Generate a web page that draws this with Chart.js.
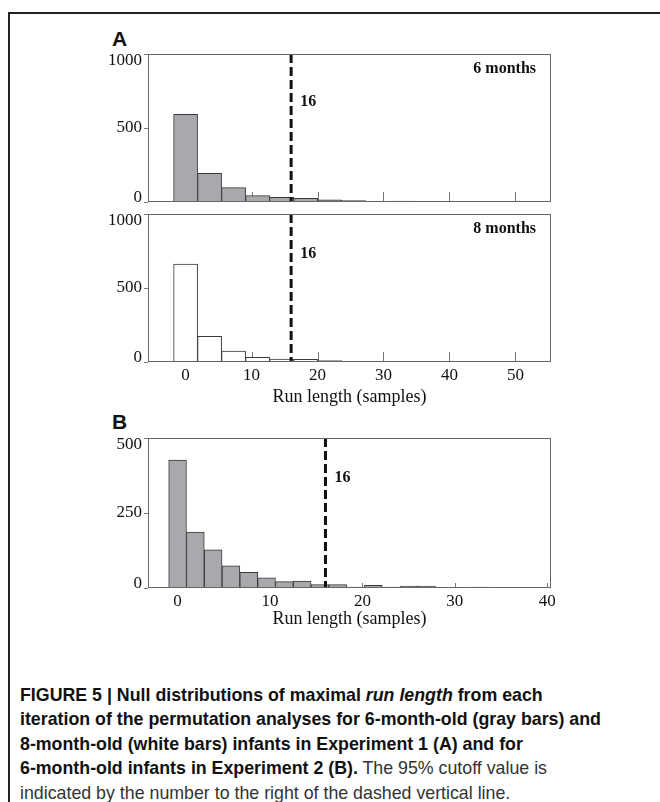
<!DOCTYPE html>
<html>
<head>
<meta charset="utf-8">
<script src="https://cdn.jsdelivr.net/npm/chart.js@4.4.1/dist/chart.umd.min.js"></script>
<style>
  body { margin: 0; background: #fff; width: 660px; height: 802px; position: relative; overflow: hidden; }
  #frame { position: absolute; left: 8px; top: 12px; width: 680px; height: 820px;
           border-left: 2px solid #222; border-top: 2px solid #222; }
  canvas { position: absolute; left: 0; }
  .plab { position: absolute; left: 112px; font: bold 21px/21px "Liberation Sans", Arial, sans-serif; color: #111; }
  #caption { position: absolute; left: 20px; top: 683px; white-space: nowrap;
             font: 17.8px/24.4px "Liberation Sans", Arial, sans-serif; color: #333; }
  #caption b { color: #111; }
</style>
</head>
<body>
<div id="frame"></div>
<div class="plab" style="top:28px">A</div>
<div class="plab" style="top:411px">B</div>
<canvas id="sixChart" width="660" height="180" style="top:36px"></canvas>
<canvas id="eightChart" width="660" height="220" style="top:196px"></canvas>
<canvas id="expTwoChart" width="660" height="218" style="top:420px"></canvas>
<div id="caption"><b>FIGURE 5 | Null distributions of maximal <i>run length</i> from each</b><br><b>iteration of the permutation analyses for 6-month-old (gray bars) and</b><br><b>8-month-old (white bars) infants in Experiment 1 (A) and for</b><br><b>6-month-old infants in Experiment 2 (B).</b> The 95% cutoff value is<br>indicated by the number to the right of the dashed vertical line.</div>

<script>
// Experiment 1 (panel A): bin centres and counts
const binsA = [0, 3.64, 7.28, 10.92, 14.56, 18.2, 21.84, 25.48, 29.12, 32.76, 36.4, 40.04, 43.68, 47.32, 50.96];
const countsSix = [592, 194, 97, 43, 32, 25, 14, 9, 1, 7, 2, 2];
const countsEight = [661, 173, 74, 32, 20, 18, 9, 4, 2, 3, 3, 2, 2, 1, 1];
// Experiment 2 (panel B)
const binsB = [0, 1.925, 3.85, 5.775, 7.7, 9.625, 11.55, 13.475, 15.4, 17.325, 19.25, 21.175,
               23.1, 25.025, 26.95, 28.875, 30.8, 32.725, 34.65, 36.575, 38.5];
const countsExpTwo = [426, 186, 127, 74, 52, 34, 21, 23, 11, 11, 3, 9, 3, 6, 6, 0, 0, 3, 0, 1, 1];

const cutoff = 16;
const xTicksA = [0, 10, 20, 30, 40, 50];
const xTicksB = [0, 10, 20, 30, 40];
const yTicksA = [0, 500, 1000];
const yTicksB = [0, 250, 500];
const xTitle = 'Run length (samples)';

Chart.defaults.font.family = '"Liberation Serif", "Times New Roman", serif';
Chart.defaults.color = '#111';

// box, inward x ticks, y labels kept inside the axis, dashed cutoff line and its labels
const panelDecor = {
    id: 'panelDecor',
    beforeDatasetsDraw(chart, args, opts) {
        const { ctx, chartArea: a, scales: { x } } = chart;
        ctx.save();
        ctx.strokeStyle = '#777';
        ctx.lineWidth = 1;
        x.ticks.forEach(t => {
            const px = Math.round(x.getPixelForValue(t.value)) + 0.5;
            ctx.beginPath();
            ctx.moveTo(px, a.bottom);
            ctx.lineTo(px, a.bottom - opts.tickLen);
            ctx.stroke();
        });
        ctx.restore();
    },
    afterDatasetsDraw(chart, args, opts) {
        const { ctx, chartArea: a, scales: { x, y } } = chart;
        const cx = x.getPixelForValue(opts.cutoff);
        ctx.save();
        ctx.strokeStyle = '#111';
        ctx.lineWidth = 3;
        ctx.setLineDash([9, 4]);
        ctx.beginPath();
        ctx.moveTo(cx, a.top);
        ctx.lineTo(cx, a.bottom);
        ctx.stroke();
        ctx.setLineDash([]);

        ctx.strokeStyle = '#666';
        ctx.lineWidth = 1;
        ctx.strokeRect(a.left + 0.5, a.top + 0.5, a.width - 1, a.height - 1);

        ctx.fillStyle = '#111';
        ctx.textBaseline = 'middle';
        ctx.font = '17px "Liberation Serif", serif';
        ctx.textAlign = 'right';
        y.ticks.forEach(t => {
            const py = Math.min(Math.max(y.getPixelForValue(t.value), a.top + 7), a.bottom - 4);
            ctx.fillText(String(t.value), a.left - 6, py);
        });

        ctx.font = 'bold 16px "Liberation Serif", serif';
        ctx.textAlign = 'left';
        ctx.fillText(String(opts.cutoff), cx + 9, a.top + opts.cutoffLabelY);
        if (opts.label) {
            ctx.textAlign = 'right';
            ctx.fillText(opts.label, a.right - 15, a.top + 15);
        }
        ctx.restore();
    }
};

function makeHist(id, bins, counts, cfg) {
    const points = counts.map((c, i) => ({ x: bins[i], y: c }));
    return new Chart(document.getElementById(id), {
        type: 'bar',
        data: {
            datasets: [{
                data: points,
                backgroundColor: cfg.fill,
                borderColor: '#3a3a3a',
                borderWidth: 1,
                barPercentage: 1,
                categoryPercentage: 1
            }]
        },
        options: {
            responsive: false,
            animation: false,
            devicePixelRatio: 1,
            layout: { padding: { left: 0, right: 109, top: 18, bottom: cfg.padBottom } },
            plugins: {
                legend: { display: false },
                tooltip: { enabled: false },
                panelDecor: { cutoff: cutoff, label: cfg.label, cutoffLabelY: cfg.cutoffLabelY, tickLen: cfg.tickLen }
            },
            scales: {
                x: {
                    type: 'linear',
                    offset: false,
                    min: cfg.xMin,
                    max: cfg.xMax,
                    afterBuildTicks: s => { s.ticks = cfg.xTicks.map(v => ({ value: v })); },
                    afterFit: s => { s.height = cfg.xHeight; },
                    grid: { display: false, drawTicks: false, offset: false },
                    border: { display: false },
                    ticks: { display: cfg.showX, padding: 3, font: { size: 17 }, maxRotation: 0,
                             callback: v => String(v) },
                    title: { display: cfg.showX, text: xTitle, font: { size: 18 }, padding: { top: 0, bottom: 2 } }
                },
                y: {
                    min: 0,
                    max: cfg.yTicks[cfg.yTicks.length - 1],
                    afterBuildTicks: s => { s.ticks = cfg.yTicks.map(v => ({ value: v })); },
                    afterFit: s => { s.width = 148; },
                    grid: { drawOnChartArea: false, drawTicks: true, tickLength: 4, color: '#777' },
                    border: { display: false },
                    ticks: { display: false }
                }
            }
        },
        plugins: [panelDecor]
    });
}

makeHist('sixChart', binsA, countsSix, {
    fill: '#a9a9ad', label: '6 months', cutoffLabelY: 48, tickLen: 10,
    xMin: -5.7, xMax: 55.4, xTicks: xTicksA, yTicks: yTicksA,
    showX: false, xHeight: 0, padBottom: 14
});
makeHist('eightChart', binsA, countsEight, {
    fill: '#ffffff', label: '8 months', cutoffLabelY: 40, tickLen: 10,
    xMin: -5.7, xMax: 55.4, xTicks: xTicksA, yTicks: yTicksA,
    showX: true, xHeight: 48, padBottom: 6
});
makeHist('expTwoChart', binsB, countsExpTwo, {
    fill: '#a9a9ad', label: '', cutoffLabelY: 40, tickLen: 5,
    xMin: -3.2, xMax: 40.4, xTicks: xTicksB, yTicks: yTicksB,
    showX: true, xHeight: 44, padBottom: 6
});
</script>
</body>
</html>
